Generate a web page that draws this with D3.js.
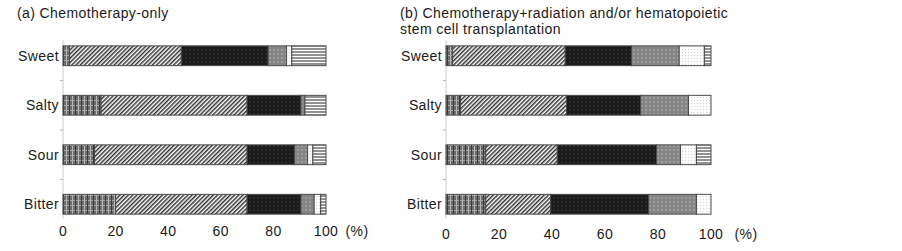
<!DOCTYPE html>
<html>
<head>
<meta charset="utf-8">
<script src="https://cdn.jsdelivr.net/npm/d3@7"></script>
<style>
    body { margin: 0; background: #fff; }
    text { font-family: "Liberation Sans", Arial, sans-serif; fill: #1a1a1a; letter-spacing: 0.4px; }
</style>
</head>
<body>
<svg width="902" height="251"></svg>
<script>
const tastes = ["Sweet", "Salty", "Sour", "Bitter"];
const xTicks = [0, 20, 40, 60, 80, 100];
const series = ["plaid", "hatch", "black", "gray", "white", "stripe"];

// (a) chemotherapy-only, % per taste (Sweet, Salty, Sour, Bitter)
const plaidA  = [2.5, 14.5, 12, 20];
const hatchA  = [42.5, 55.5, 58, 50];
const blackA  = [33, 20.5, 18, 20.5];
const grayA   = [7, 1.5, 5, 5];
const whiteA  = [2, 0, 2, 2.5];
const stripeA = [13, 8, 5, 2];

// (b) chemotherapy+radiation and/or HSCT
const plaidB  = [2.5, 5.5, 15, 15];
const hatchB  = [42.5, 40, 27, 24.5];
const blackB  = [25, 28, 37.5, 37];
const grayB   = [18, 18, 9, 18];
const whiteB  = [9.5, 8.5, 6, 5.5];
const stripeB = [2.5, 0, 5.5, 0];

const svg = d3.select("svg");
const defs = svg.append("defs");

// fill patterns
function pattern(id, w, h, bg) {
    const p = defs.append("pattern").attr("id", id)
        .attr("patternUnits", "userSpaceOnUse")
        .attr("width", w).attr("height", h);
    p.append("rect").attr("width", w).attr("height", h).attr("fill", bg);
    return p;
}

const plaid = pattern("plaid", 6, 5, "#6c6c6c");
plaid.append("line").attr("x1", 0.5).attr("x2", 0.5).attr("y1", 0).attr("y2", 5).attr("stroke", "#b8b8b8").attr("stroke-width", 1);
plaid.append("line").attr("x1", 0).attr("x2", 6).attr("y1", 0.5).attr("y2", 0.5).attr("stroke", "#a8a8a8").attr("stroke-width", 1);
plaid.append("line").attr("x1", 3.5).attr("x2", 3.5).attr("y1", 0).attr("y2", 5).attr("stroke", "#3a3a3a").attr("stroke-width", 1);

const hatch = pattern("hatch", 3, 3, "#fff").attr("patternTransform", "rotate(45)");
hatch.append("line").attr("x1", 0.75).attr("x2", 0.75).attr("y1", 0).attr("y2", 3).attr("stroke", "#333").attr("stroke-width", 1.5);

const black = pattern("black", 4, 4, "#1b1b1b");
black.append("circle").attr("cx", 2).attr("cy", 2).attr("r", 0.6).attr("fill", "#5a5a5a");

const gray = pattern("gray", 4, 4, "#858585");
gray.append("circle").attr("cx", 2).attr("cy", 2).attr("r", 0.8).attr("fill", "#bdbdbd");

const white = pattern("white", 3, 3, "#fbfbfb");
white.append("circle").attr("cx", 1.5).attr("cy", 1.5).attr("r", 0.5).attr("fill", "#c8c8c8");

const stripe = pattern("stripe", 3, 3, "#fff");
stripe.append("line").attr("x1", 0).attr("x2", 3).attr("y1", 1).attr("y2", 1).attr("stroke", "#777").attr("stroke-width", 1.6);

drawPanel({
    title: ["(a) Chemotherapy-only"], titleX: 17,
    x0: 63, x1: 326, tickY: 236, pctX: 357,
    cols: [plaidA, hatchA, blackA, grayA, whiteA, stripeA]
});
drawPanel({
    title: ["(b) Chemotherapy+radiation and/or hematopoietic", "stem cell transplantation"], titleX: 400,
    x0: 446, x1: 711, tickY: 239, pctX: 746,
    cols: [plaidB, hatchB, blackB, grayB, whiteB, stripeB]
});

function drawPanel(p) {
    const g = svg.append("g");

    const x = d3.scaleLinear().domain([0, 100]).range([p.x0, p.x1]);
    const y = d3.scaleBand().domain(tastes).range([31, 229])
        .paddingInner(0.6).paddingOuter(0.3);

    const rows = tastes.map((t, i) => {
        const r = { taste: t };
        series.forEach((s, j) => r[s] = p.cols[j][i]);
        return r;
    });
    const stacked = d3.stack().keys(series)(rows);

    g.selectAll(".title")
        .data(p.title)
        .join("text")
        .attr("x", p.titleX)
        .attr("y", (d, i) => 18 + i * 16)
        .attr("font-size", 14)
        .text(d => d);

    // y axis: faint line with small ticks between the bars
    const top = y(tastes[0]), bottom = y(tastes[3]) + y.bandwidth();
    g.append("line")
        .attr("x1", p.x0).attr("x2", p.x0)
        .attr("y1", top - 6).attr("y2", bottom + 4)
        .attr("stroke", "#ccc");
    g.selectAll(".ytick")
        .data(tastes.slice(1))
        .join("line")
        .attr("x1", p.x0 - 3).attr("x2", p.x0)
        .attr("y1", d => y(d) - y.step() * y.paddingInner() / 2)
        .attr("y2", d => y(d) - y.step() * y.paddingInner() / 2)
        .attr("stroke", "#bbb");

    g.selectAll(".cat")
        .data(tastes)
        .join("text")
        .attr("x", p.x0 - 4)
        .attr("y", d => y(d) + y.bandwidth() / 2 + 5)
        .attr("text-anchor", "end")
        .attr("font-size", 14)
        .text(d => d);

    g.selectAll(".layer")
        .data(stacked)
        .join("g")
        .attr("fill", d => "url(#" + d.key + ")")
        .selectAll("rect")
        .data(d => d.filter(v => v[1] > v[0]))
        .join("rect")
        .attr("x", d => x(d[0]))
        .attr("y", d => y(d.data.taste))
        .attr("width", d => x(d[1]) - x(d[0]))
        .attr("height", y.bandwidth())
        .attr("stroke", "#4a4a4a")
        .attr("stroke-width", 1);

    g.selectAll(".xtick")
        .data(xTicks)
        .join("text")
        .attr("x", d => x(d))
        .attr("y", p.tickY)
        .attr("text-anchor", "middle")
        .attr("font-size", 14)
        .text(d => d);

    g.append("text")
        .attr("x", p.pctX)
        .attr("y", p.tickY)
        .attr("text-anchor", "middle")
        .attr("font-size", 14)
        .text("(%)");
}
</script>
</body>
</html>
